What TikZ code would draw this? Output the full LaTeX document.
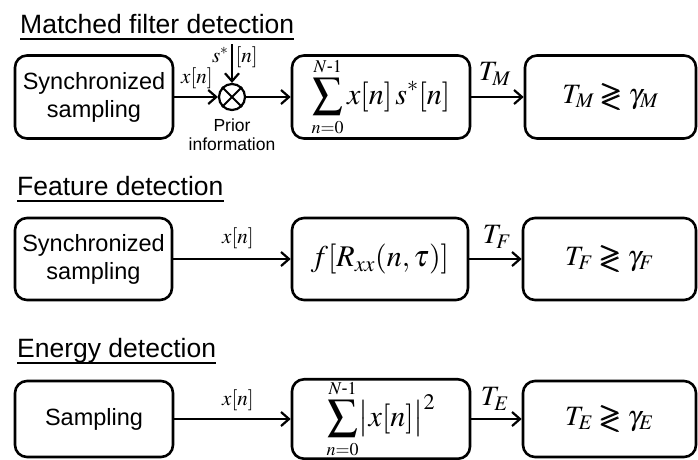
\documentclass[tikz,border=0pt]{standalone}
\usepackage{mathptmx}
\usepackage{amsmath}
\usepackage{amssymb}
\usepackage[no-math]{fontspec}
\setmainfont{Liberation Sans}
\usetikzlibrary{arrows.meta}

% comparison sign drawn heavier, as in the decision boxes
\newcommand{\cmpsign}{\mathrel{\pmb{\gtrless}}}
% summation with small limits
\newcommand{\smallsum}{\sum_{\scriptscriptstyle n=0}^{\scriptscriptstyle N\text{-}1}}

\begin{document}
\begin{tikzpicture}[x=1pt,y=-1pt,
  blk/.style={draw, line width=2.6pt, rounded corners=12pt, inner sep=0pt,
    align=center, font=\fontsize{23.5}{28}\selectfont},
  mathblk/.style={blk, font=\fontsize{28}{34}\selectfont},
  bigmath/.style={blk, font=\fontsize{30}{36}\selectfont},
  flow/.style={line width=2.2pt, -{Straight Barb[length=8pt,width=14pt,line width=2.2pt]}},
  lbl/.style={inner sep=0pt, font=\fontsize{21}{24}\selectfont},
  tlbl/.style={inner sep=0pt, font=\fontsize{28}{32}\selectfont},
  ttl/.style={inner sep=0pt, anchor=base west, font=\fontsize{26.5}{30}\selectfont},
  uline/.style={line width=1.8pt},
  mixer/.style={draw, circle, line width=2.2pt, minimum size=26pt, inner sep=0pt}
]
\useasboundingbox (0,0) rectangle (698,459);

% ---------- Matched filter detection ----------
\node[ttl] (t1) at (20,33) {Matched filter detection};
\draw[uline] ([yshift=-6pt]t1.base west) -- ([yshift=-6pt]t1.base east);

\node[blk, minimum width=158pt, minimum height=83pt] (s1) at (94,97) {Synchronized\\sampling};
\node[mixer] (mix) at (232,97) {};
\draw[line width=2pt] (mix.45) -- (mix.225) (mix.135) -- (mix.315);
\node[bigmath, minimum width=178pt, minimum height=83pt] (c1) at (381,97)
  {$\displaystyle\smallsum x[n]\,s^{*}[n]$};
\node[mathblk, minimum width=171pt, minimum height=83pt] (d1) at (610.5,97)
  {$T_M \cmpsign \gamma_{M}$};

\coordinate (sin) at (232,44);
\node[lbl] (sl) at (232,57) {\makebox[0pt][r]{$s^{*}$\,}\makebox[0pt][l]{\,$[n]$}};
\node[lbl] (xl1) at (197,78) {$x[n]$};
\node[inner sep=0pt, align=center, font=\fontsize{17.5}{19}\selectfont] (prior) at (232,135)
  {Prior\\information};
\node[tlbl] (tm) at (495,74) {$T_M$};

\draw[flow] (s1.east) -- (mix.west);
\draw[flow] (sin) -- (mix.north);
\draw[flow] (mix.east) -- (c1.west);
\draw[flow] (c1.east) -- (d1.west);

% ---------- Feature detection ----------
\node[ttl] (t2) at (17,195) {Feature detection};
\draw[uline] ([yshift=-6pt]t2.base west) -- ([yshift=-6pt]t2.base east);

\node[blk, minimum width=157pt, minimum height=82pt] (s2) at (93.5,259) {Synchronized\\sampling};
\node[bigmath, minimum width=176pt, minimum height=82pt] (c2) at (380,259)
  {$f[R_{xx}(n,\tau)]$};
\node[mathblk, minimum width=173pt, minimum height=82pt] (d2) at (609.5,259)
  {$T_F \cmpsign \gamma_{F}$};

\node[lbl] (xl2) at (238,238) {$x[n]$};
\node[tlbl] (tf) at (497,237) {$T_F$};

\draw[flow] (s2.east) -- (c2.west);
\draw[flow] (c2.east) -- (d2.west);

% ---------- Energy detection ----------
\node[ttl] (t3) at (17,357) {Energy detection};
\draw[uline] ([yshift=-6pt]t3.base west) -- ([yshift=-6pt]t3.base east);

\node[blk, minimum width=158pt, minimum height=76pt] (s3) at (94,419) {Sampling};
\node[bigmath, minimum width=178pt, minimum height=76pt] (c3) at (381,419)
  {$\displaystyle\smallsum \bigl|x[n]\bigr|^{2}$};
\node[mathblk, minimum width=173pt, minimum height=76pt] (d3) at (609.5,419)
  {$T_E \cmpsign \gamma_{E}$};

\node[lbl] (xl3) at (238,400) {$x[n]$};
\node[tlbl] (te) at (495,399) {$T_E$};

\draw[flow] (s3.east) -- (c3.west);
\draw[flow] (c3.east) -- (d3.west);
\end{tikzpicture}
\end{document}
